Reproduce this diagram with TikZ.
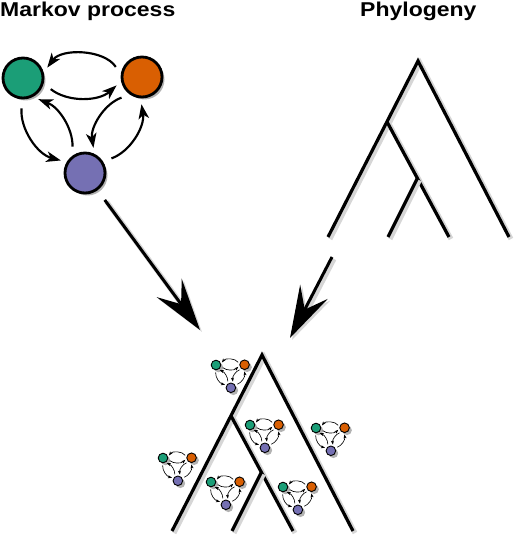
\documentclass[tikz,border=0pt]{standalone}
\usepackage{fontspec}
\newfontfamily\titlefont[FakeStretch=1.15]{Liberation Sans}
\usetikzlibrary{arrows.meta,calc}
\definecolor{mgreen}{HTML}{1B9E77}
\definecolor{morange}{HTML}{D95F02}
\definecolor{mpurple}{HTML}{7570B3}
\tikzset{
  lineshadow/.style={preaction={draw=black!16,line width=5pt,transform canvas={shift={(2pt,-2pt)}}}},
  branch/.style={line width=3.2pt,lineshadow},
  bigarrow/.style={line width=3pt,-{Stealth[length=52pt,width=31pt,inset=20pt]},lineshadow},
  title/.style={font=\titlefont\bfseries\fontsize{20}{24}\selectfont,inner sep=0pt,anchor=base west},
  pics/markov/.style={code={
    \pgfmathsetmacro\msize{40*#1}
    \pgfmathsetmacro\mlw{2.5*#1+0.3}
    \pgfmathsetmacro\alw{2*#1+0.15}
    \pgfmathsetmacro\alen{14*#1+0.6}
    \pgfmathsetmacro\awid{10*#1+0.5}
    \pgfmathsetmacro\ains{4*#1}
    \pgfmathsetmacro\sgap{9*#1}
    \pgfmathsetmacro\egap{6*#1}
    \begin{scope}[scale=#1,
      state/.style={circle,draw,line width=\mlw pt,minimum size=\msize pt,inner sep=0pt,
        preaction={fill=black!30,transform canvas={shift={(2.5pt,-2.5pt)}}}},
      flow/.style={line width=\alw pt,-{Stealth[length=\alen pt,width=\awid pt,inset=\ains pt]},
        shorten <=\sgap pt,shorten >=\egap pt}]
      \node[state,fill=mgreen]  (-g) at (0,0) {};
      \node[state,fill=morange] (-o) at (119,1) {};
      \node[state,fill=mpurple] (-p) at (62,-95) {};
      % transitions
      \draw[flow] (-o.173) to[bend right=55] (-g.15);
      \draw[flow] (-g.-15) to[bend right=40] (-o.192);
      \draw[flow] (-g.268) to[bend right=40] (-p.149);
      \draw[flow] (-p.126) to[bend right=35] (-g.-63);
      \draw[flow] (-o.236) to[bend right=40] (-p.64);
      \draw[flow] (-p.33) to[bend right=40] (-o.266);
    \end{scope}
  }},
  pics/phylo/.style={code={
    \coordinate (-r) at (0,0);
    \coordinate (-l1) at (-90,-176);
    \coordinate (-l2) at (-30,-176);
    \coordinate (-l3) at (31,-176);
    \coordinate (-l4) at (91,-176);
    \coordinate (-a) at ($(-r)!0.345!(-l1)$);
    \coordinate (-b) at ($(-a)!0.49!(-l3)$);
    \draw[branch] (-l1) -- (-r) -- (-l4);
    \draw[branch] (-a) -- (-l3);
    \draw[branch] (-b) -- (-l2);
  }}
}
\begin{document}
\begin{tikzpicture}[x=1pt,y=1pt]
\useasboundingbox (0,0) rectangle (518,538);
\node[title] (tmarkov) at (0,521) {Markov process};
\node[title] (tphylo) at (360,521) {Phylogeny};
\pic (mk) at (23,460) {markov=1};
\pic (tree) at (418,477) {phylo};
\pic (joint) at (262,183) {phylo};
% models on the branches
\foreach \gx/\gy [count=\i] in {216/173,250/113,316/110,163/80,211/56,283/51}
  \pic (icon\i) at (\gx,\gy) {markov=0.24};
\coordinate (tipA) at (200,208);
\coordinate (fromtree) at ($(tree-l1)+(4,-20)$);
\coordinate (tipB) at (290,200);
\draw[bigarrow,shorten <=12pt] (mk-p) -- (tipA);
\draw[bigarrow] (fromtree) -- (tipB);
\end{tikzpicture}
\end{document}
